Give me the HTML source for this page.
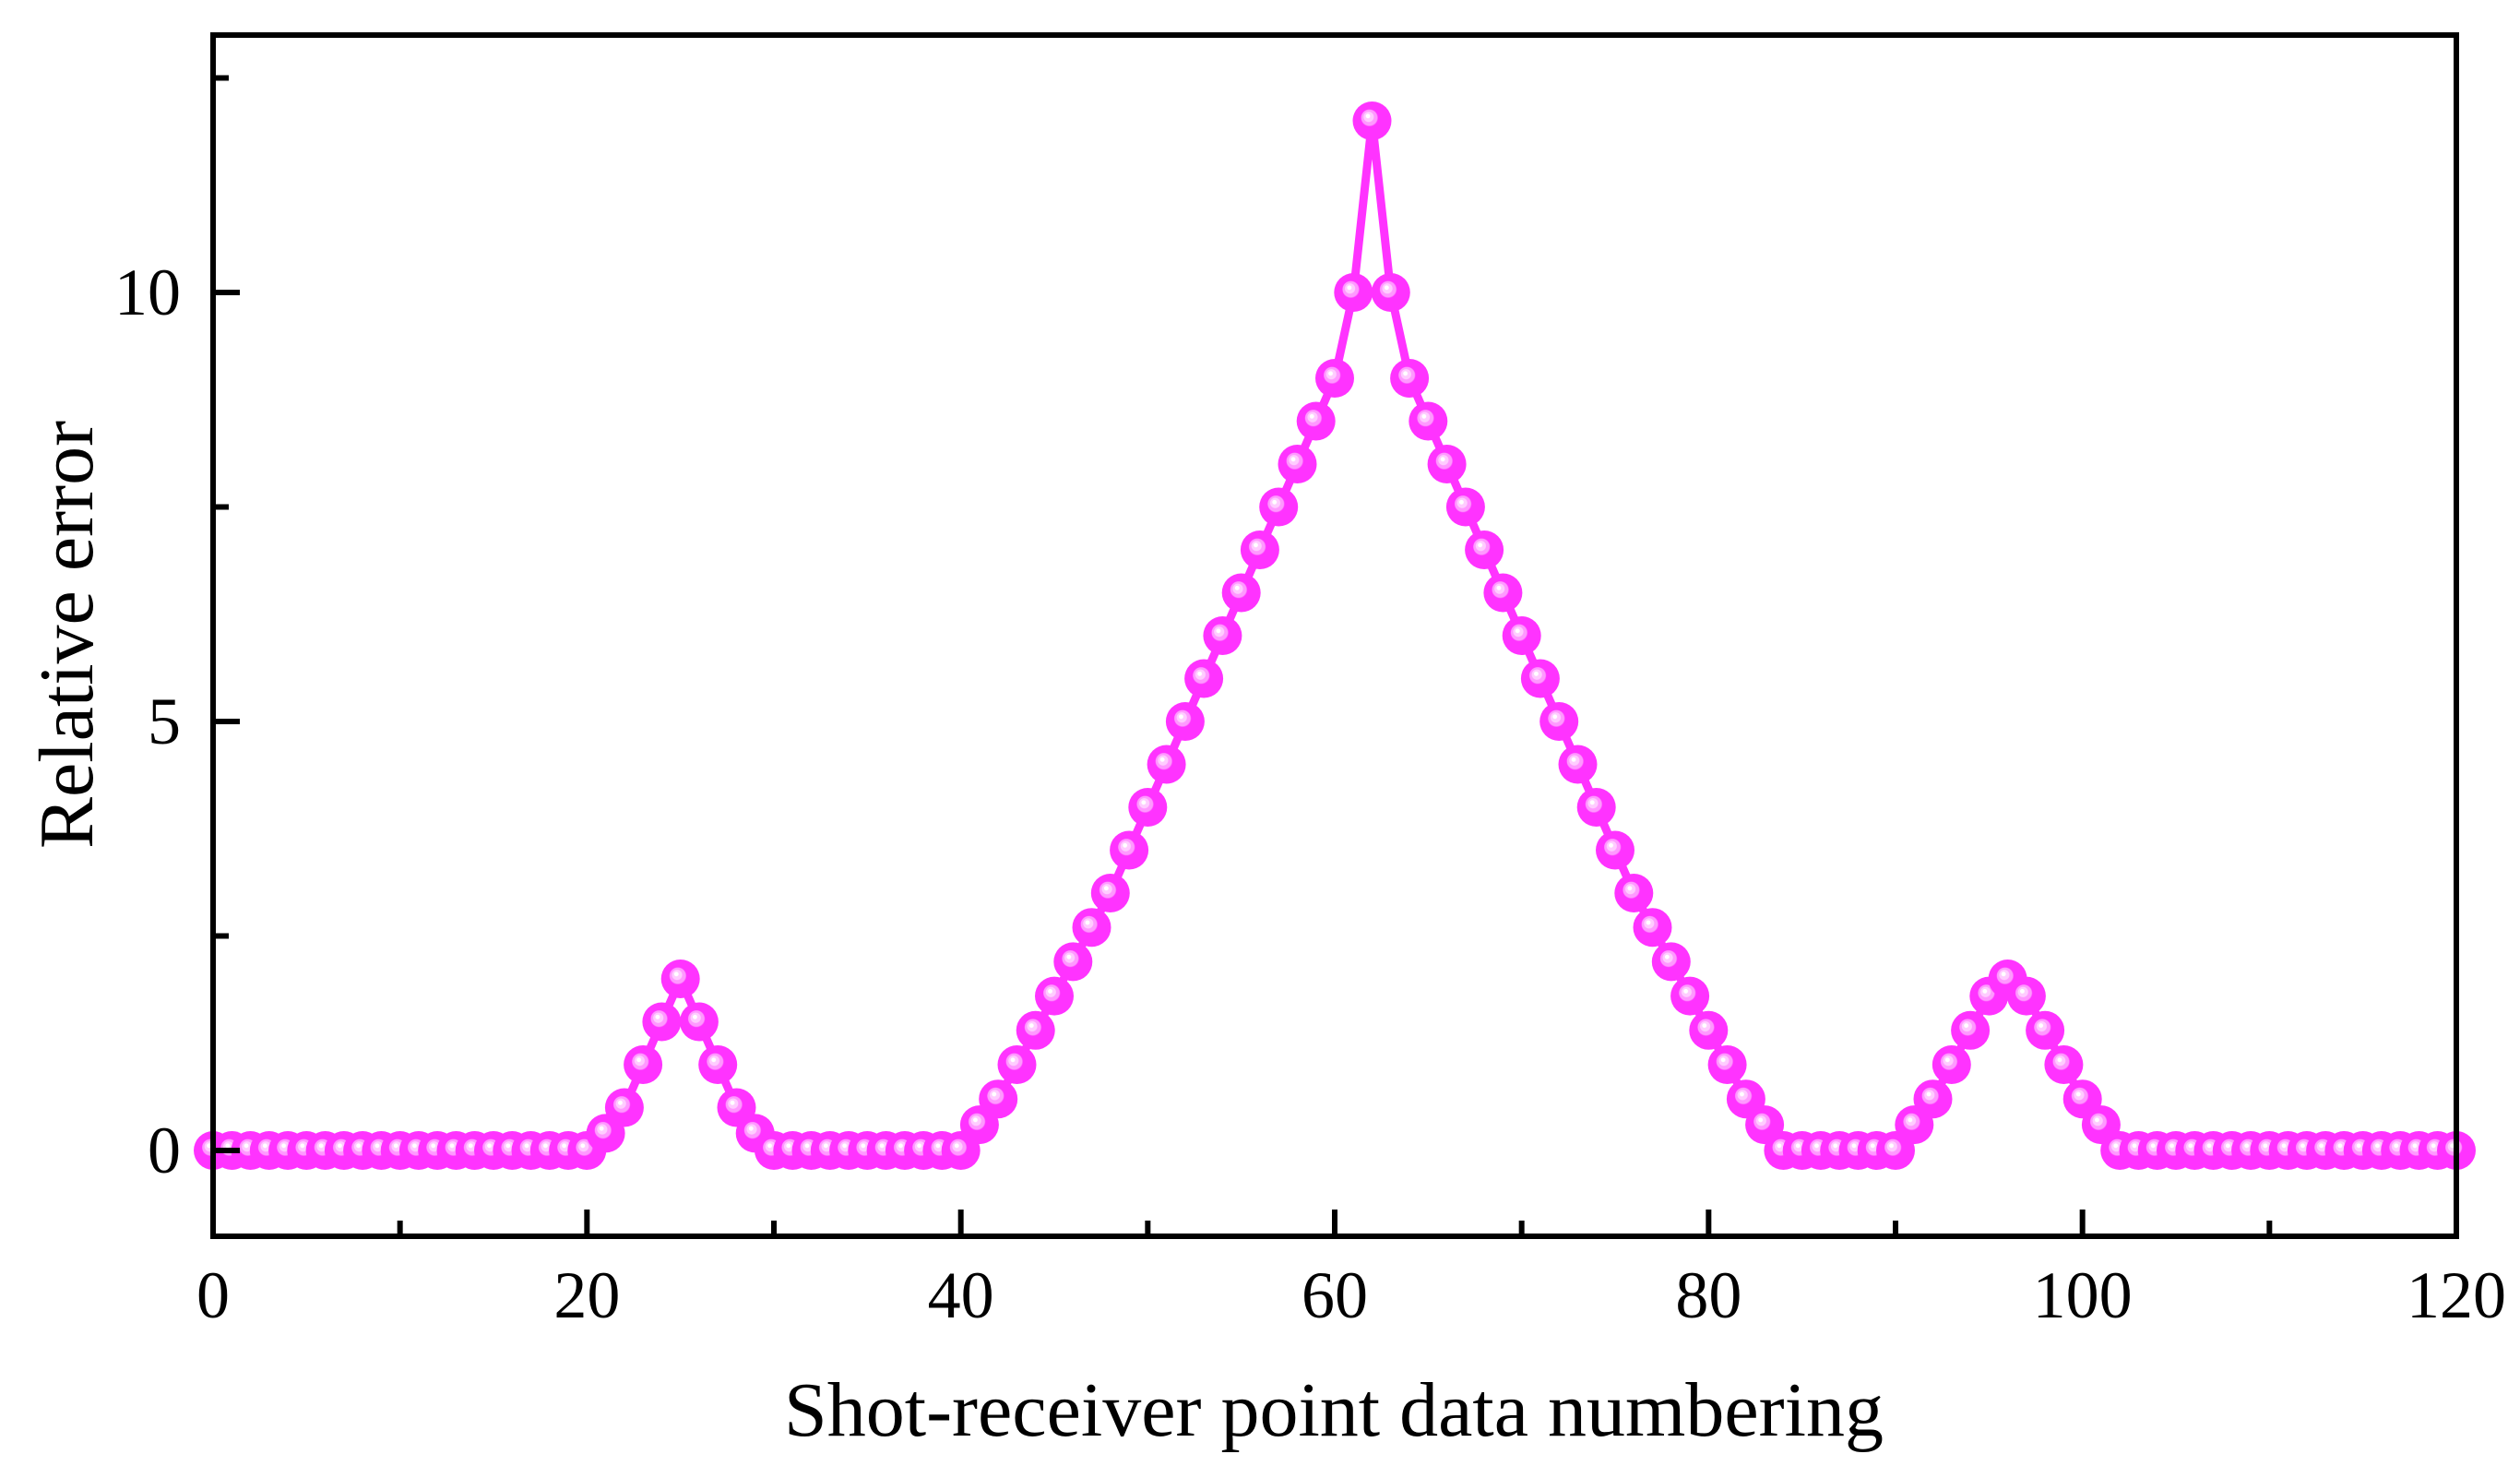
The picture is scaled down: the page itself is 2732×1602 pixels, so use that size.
<!DOCTYPE html>
<html><head><meta charset="utf-8"><style>
html,body{margin:0;padding:0;background:#fff;}
svg{display:block;font-family:"Liberation Serif",serif;}
</style></head><body>
<svg id="chart" width="2732" height="1602" viewBox="0 0 2732 1602" xmlns="http://www.w3.org/2000/svg">
<defs>
<radialGradient id="ball" cx="0.5" cy="0.5" r="0.5" fx="0.38" fy="0.36">
<stop offset="0" stop-color="#ffffff"/>
<stop offset="0.1" stop-color="#ffffff"/>
<stop offset="0.13" stop-color="#ffccff"/>
<stop offset="0.25" stop-color="#ffccff"/>
<stop offset="0.28" stop-color="#ff99ff"/>
<stop offset="0.4" stop-color="#ff99ff"/>
<stop offset="0.45" stop-color="#ff33ff"/>
<stop offset="1" stop-color="#ff33ff"/>
</radialGradient>
</defs>
<g id="series"></g>
<g id="axes"></g>
<text x="1446" y="1556" font-size="84" text-anchor="middle">Shot-receiver point data numbering</text>
<text transform="translate(100,688) rotate(-90)" font-size="84" text-anchor="middle">Relative error</text>
</svg>
<script>
const xValues = [];
for (let i = 0; i <= 120; i++) xValues.push(i);
const yValues = [
0,0,0,0,0,0,0,0,0,0, 0,0,0,0,0,0,0,0,0,0, 0,
0.2,0.5,1.0,1.5,2.0,1.5,1.0,0.5,0.2,
0,0,0,0,0,0,0,0,0,0,0,
0.3,0.6,1.0,1.4,1.8,2.2,2.6,3.0,3.5,4.0,4.5,5.0,5.5,6.0,6.5,7.0,7.5,8.0,8.5,9.0,10,12,10,
9.0,8.5,8.0,7.5,7.0,6.5,6.0,5.5,5.0,4.5,4.0,3.5,3.0,2.6,2.2,1.8,1.4,1.0,0.6,0.3,
0,0,0,0,0,0,0,
0.3,0.6,1.0,1.4,1.8,2.0,1.8,1.4,1.0,0.6,0.3,
0,0,0,0,0,0,0,0,0,0,0,0,0,0,0,0,0,0,0
];
const xTickLabels = [0,20,40,60,80,100,120];
const xMinorTicks = [10,30,50,70,90,110];
const yTickLabels = [0,5,10];
const yMinorTicks = [2.5,7.5,12.5];

const X0 = 231, X1 = 2663, Y0 = 1340, Y1 = 38;
const xMin = 0, xMax = 120, yMin = -1, yMax = 13;
function sx(v){ return X0 + (v - xMin) / (xMax - xMin) * (X1 - X0); }
function sy(v){ return Y0 - (v - yMin) / (yMax - yMin) * (Y0 - Y1); }
const NS = "http://www.w3.org/2000/svg";
function mk(tag, attrs, parent){ const e = document.createElementNS(NS, tag); for (const k in attrs) e.setAttribute(k, attrs[k]); parent.appendChild(e); return e; }

const series = document.getElementById('series');
let d = '';
xValues.forEach((x, i) => { d += (i ? 'L' : 'M') + sx(x).toFixed(1) + ' ' + sy(yValues[i]).toFixed(1); });
const line = mk('path', {d: d, fill: 'none', stroke: '#ff33ff', 'stroke-width': 9, 'stroke-linejoin': 'round'}, series);


xValues.forEach((x, i) => {
  const c = mk('circle', {cx: sx(x).toFixed(1), cy: sy(yValues[i]).toFixed(1), r: 21, fill: 'url(#ball)'}, series);
  
  
});

const axes = document.getElementById('axes');
const frame = mk('rect', {x: X0, y: Y1, width: X1 - X0, height: Y0 - Y1, fill: 'none', stroke: '#000', 'stroke-width': 6}, axes);


xTickLabels.forEach(v => {
  const t = mk('line', {x1: sx(v), x2: sx(v), y1: Y0, y2: Y0 - 29, stroke: '#000', 'stroke-width': 6}, axes);
  
  
  const l = mk('text', {x: sx(v), y: 1428, 'font-size': 72, 'text-anchor': 'middle'}, axes);
  l.textContent = v;
  
  
});
xMinorTicks.forEach(v => {
  const t = mk('line', {x1: sx(v), x2: sx(v), y1: Y0, y2: Y0 - 17, stroke: '#000', 'stroke-width': 6}, axes);
  
  
});
yTickLabels.forEach(v => {
  const t = mk('line', {x1: X0, x2: X0 + 29, y1: sy(v), y2: sy(v), stroke: '#000', 'stroke-width': 6}, axes);
  
  
  const l = mk('text', {x: 196, y: sy(v) + 24, 'font-size': 72, 'text-anchor': 'end'}, axes);
  l.textContent = v;
  
  
});
yMinorTicks.forEach(v => {
  const t = mk('line', {x1: X0, x2: X0 + 17, y1: sy(v), y2: sy(v), stroke: '#000', 'stroke-width': 6}, axes);
  
  
});
</script>
</body></html>
